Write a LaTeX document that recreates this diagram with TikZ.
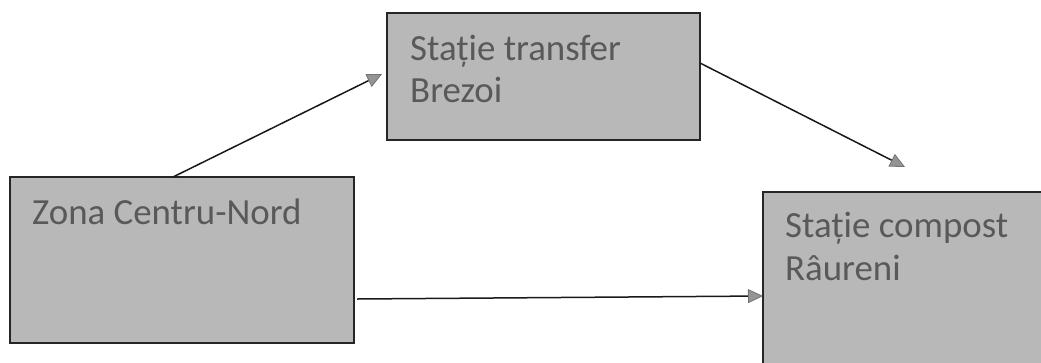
\documentclass[tikz,border=0pt]{standalone}
\usepackage{fontspec}
\setmainfont{Carlito}
\usetikzlibrary{arrows.meta}
\begin{document}
\begin{tikzpicture}[x=1bp,y=-1bp,
  boxnode/.style={draw=black!85,line width=1.4bp,fill=black!28,rectangle,inner sep=0pt,outer sep=0pt},
  lbl/.style={anchor=base west,inner sep=0pt,text=black!65,font=\fontsize{37}{40}\selectfont},
  conn/.style={draw=black!90,line width=1.5bp,-{Triangle[length=15bp,width=14bp,color=black!55,fill=black!42,line width=0.8bp]}}]
\useasboundingbox (0,0) rectangle (1041,362);
\clip (0,0) rectangle (1041,362);
\node[boxnode,minimum width=344bp,minimum height=166bp] (zona) at (182,260) {};
\node[boxnode,minimum width=313bp,minimum height=127bp] (transfer) at (543.5,76.5) {};
\node[boxnode,minimum width=287bp,minimum height=183bp] (compost) at (906.5,283.5) {};
\node[lbl] (t1) at (32,224) {Zona Centru-Nord};
\node[lbl] (t2) at (410,60) {Stație transfer};
\node[lbl] (t3) at (410,102) {Brezoi};
\node[lbl] (t4) at (785,237) {Stație compost};
\node[lbl] (t5) at (785,280) {Râureni};
\coordinate (tipA) at (382,74);
\coordinate (tipB) at (905,167);
\coordinate (tipC) at (763,296);
\draw[conn] ([xshift=163bp]zona.north west) -- (tipA);
\draw[conn] ([yshift=13.5bp]transfer.east) -- (tipB);
\draw[conn] ([yshift=-39bp,xshift=3bp]zona.east) -- (tipC);
\end{tikzpicture}
\end{document}
